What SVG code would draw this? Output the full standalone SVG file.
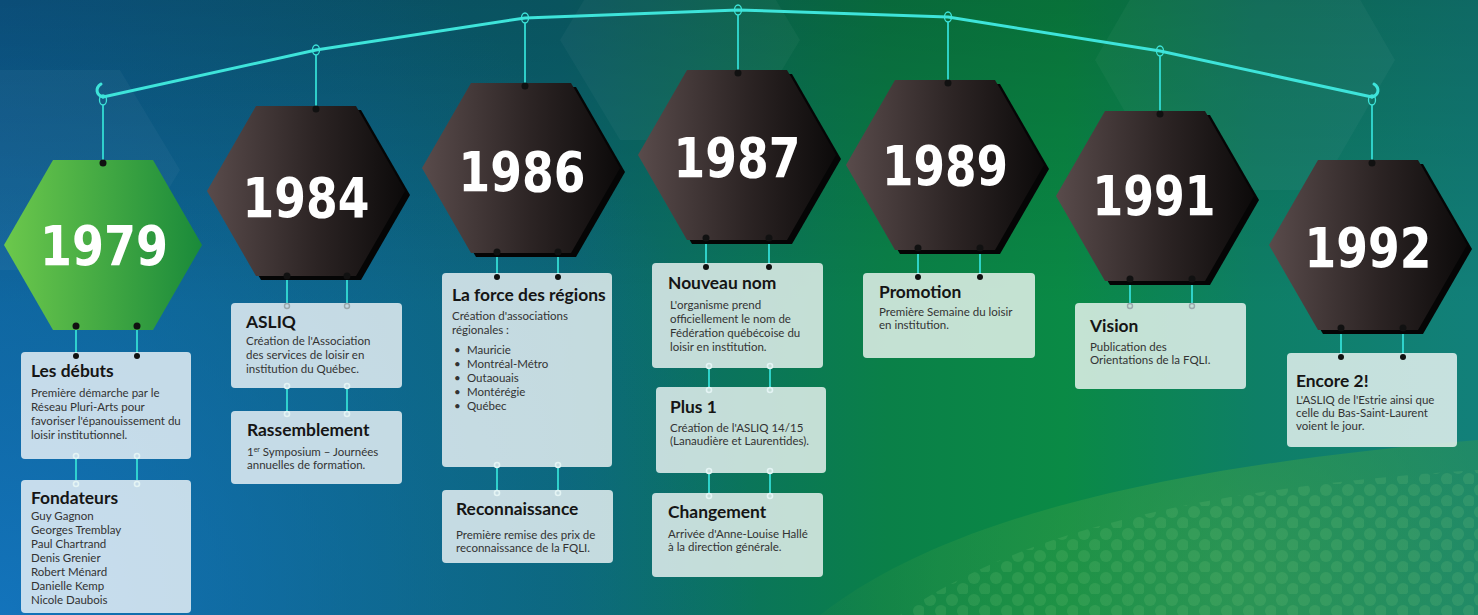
<svg xmlns="http://www.w3.org/2000/svg" width="1478" height="615" viewBox="0 0 1478 615">
<defs>
  <linearGradient id="bgH" x1="0" y1="0" x2="1" y2="0">
    <stop offset="0" stop-color="#0c5a8c"/>
    <stop offset="0.38" stop-color="#0b6672"/>
    <stop offset="0.6" stop-color="#0a8048"/>
    <stop offset="0.72" stop-color="#0a8a45"/>
    <stop offset="0.85" stop-color="#0e7f66"/>
    <stop offset="1" stop-color="#12807a"/>
  </linearGradient>
  <radialGradient id="blueBL" cx="0" cy="615" r="760" gradientUnits="userSpaceOnUse">
    <stop offset="0" stop-color="#1478c4" stop-opacity="0.85"/>
    <stop offset="0.6" stop-color="#1272b0" stop-opacity="0.35"/>
    <stop offset="1" stop-color="#1272b0" stop-opacity="0"/>
  </radialGradient>
  <linearGradient id="topDark" x1="0" y1="0" x2="0" y2="1">
    <stop offset="0" stop-color="#000" stop-opacity="0.18"/>
    <stop offset="0.5" stop-color="#000" stop-opacity="0"/>
  </linearGradient>
  <radialGradient id="greenBR" cx="1250" cy="580" r="520" gradientUnits="userSpaceOnUse">
    <stop offset="0" stop-color="#45a848" stop-opacity="0.55"/>
    <stop offset="0.6" stop-color="#389a45" stop-opacity="0.3"/>
    <stop offset="1" stop-color="#2a8a45" stop-opacity="0"/>
  </radialGradient>
  <pattern id="dots" x="0" y="0" width="22" height="22" patternUnits="userSpaceOnUse">
    <circle cx="6" cy="6" r="6" fill="#8fd88a" fill-opacity="0.14"/>
    <circle cx="17" cy="17" r="6" fill="#8fd88a" fill-opacity="0.14"/>
  </pattern>
  <linearGradient id="hexDark" x1="0" y1="0" x2="1" y2="0">
    <stop offset="0" stop-color="#594b4b"/>
    <stop offset="0.55" stop-color="#2c2424"/>
    <stop offset="1" stop-color="#0c0a0a"/>
  </linearGradient>
  <linearGradient id="hexGreen" x1="0" y1="0" x2="1" y2="0">
    <stop offset="0" stop-color="#6cc84c"/>
    <stop offset="1" stop-color="#1a8a3a"/>
  </linearGradient>
  <polygon id="hex" points="-99,0 -50,-85 50,-85 99,0 50,85 -50,85"/>
  <style>
    .rope{fill:none;stroke:#3ee4da;stroke-width:3;stroke-linejoin:round;stroke-linecap:round}
    .ring{fill:none;stroke:#3ee4da;stroke-width:1.3}
    .str{stroke:#33dcd4;stroke-width:1.8}
    .dot{fill:#111}
    .oring{fill:none;stroke:#e4f4f4;stroke-width:1.6}
    .gring{fill:none;stroke:#9aa8ac;stroke-width:1.4}
    .shadow{fill:#050505}
    .hx{fill:url(#hexDark)}
    .year{font-family:"DejaVu Sans","DejaVu Sans Condensed",sans-serif;font-weight:bold;font-size:56px;fill:#fff;text-anchor:middle}
    .card{fill:#fff;fill-opacity:0.76}
    .t{font-family:Lato,"Open Sans",sans-serif;font-weight:bold;font-size:17.4px;fill:#151515}
    .b{font-family:Lato,"Open Sans",sans-serif;font-size:11.5px;fill:#333}
    .bghex{fill:#fff;fill-opacity:0.035}
  </style>
</defs>

<g id="background">
  <rect width="1478" height="615" fill="url(#bgH)"/>
  <rect width="1478" height="615" fill="url(#blueBL)"/>
  <rect width="1478" height="615" fill="url(#topDark)"/>
  <polygon class="bghex" points="560,40 620,-60 740,-60 800,40 740,140 620,140"/>
  <polygon class="bghex" points="1095,60 1170,-70 1320,-70 1395,60 1320,190 1170,190"/>
  <polygon class="bghex" points="-60,170 0,70 120,70 180,170 120,270 0,270"/>
  <path d="M820,615 C930,530 1120,470 1478,440 L1478,615 Z" fill="url(#greenBR)"/>
  <path d="M900,615 C1000,545 1160,490 1478,470 L1478,615 Z" fill="url(#dots)"/>
</g>

<g id="connectors">
  <path class="rope" d="M103,97 L316,50 L525,18 L738,10 L948,17 L1160,51 L1372,97"/>
  <path class="rope" d="M103,97 C96,95 95,88 101,84" stroke-width="2"/>
  <path class="rope" d="M1372,97 C1379,95 1380,88 1374,84" stroke-width="2"/>
  <ellipse class="ring" cx="103" cy="100" rx="3.5" ry="5"/>
  <ellipse class="ring" cx="316" cy="50" rx="3.5" ry="5"/>
  <ellipse class="ring" cx="525" cy="18" rx="3.5" ry="5"/>
  <ellipse class="ring" cx="738" cy="10" rx="3.5" ry="5"/>
  <ellipse class="ring" cx="948" cy="17" rx="3.5" ry="5"/>
  <ellipse class="ring" cx="1160" cy="51" rx="3.5" ry="5"/>
  <ellipse class="ring" cx="1372" cy="100" rx="3.5" ry="5"/>
  <line class="str" x1="103" y1="105" x2="103" y2="162"/>
  <line class="str" x1="316" y1="55" x2="316" y2="108"/>
  <line class="str" x1="525" y1="23" x2="525" y2="85"/>
  <line class="str" x1="738" y1="15" x2="738" y2="72"/>
  <line class="str" x1="948" y1="22" x2="948" y2="82"/>
  <line class="str" x1="1160" y1="56" x2="1160" y2="113"/>
  <line class="str" x1="1372" y1="105" x2="1372" y2="162"/>
  <path class="str" d="M76,327V356M137,327V356"/>
  <path class="str" d="M287,276V303M347,276V303"/>
  <path class="str" d="M497,251V277M558,251V277"/>
  <path class="str" d="M706,238V267M769,238V267"/>
  <path class="str" d="M918,248V277M980,248V277"/>
  <path class="str" d="M1130,279V303M1192,279V303"/>
  <path class="str" d="M1341,328V356M1403,328V356"/>
  <path class="str" d="M76,459V480M137,459V480"/>
  <path class="str" d="M287,388V411M347,388V411"/>
  <path class="str" d="M497,467V490M558,467V490"/>
  <path class="str" d="M709,368V387M770,368V387"/>
  <path class="str" d="M709,473V493M770,473V493"/>
</g>

<g id="n1979">
  <use href="#hex" x="103" y="245" fill="url(#hexGreen)"/>
  <text class="year" x="104" y="265" textLength="128" lengthAdjust="spacingAndGlyphs">1979</text>
  <circle class="dot" cx="103" cy="163" r="3.5"/>
  <circle class="dot" cx="76" cy="326" r="3.5"/>
  <circle class="dot" cx="137" cy="326" r="3.5"/>
</g>

<g id="n1984">
  <use href="#hex" x="311" y="195" class="shadow"/>
  <use href="#hex" x="306" y="191" class="hx"/>
  <text class="year" x="306" y="217" textLength="127" lengthAdjust="spacingAndGlyphs">1984</text>
  <circle class="dot" cx="316" cy="109" r="3.5"/>
  <circle class="dot" cx="287" cy="276" r="3.5"/>
  <circle class="dot" cx="347" cy="276" r="3.5"/>
</g>

<g id="n1986">
  <use href="#hex" x="526" y="172" class="shadow"/>
  <use href="#hex" x="521" y="168" class="hx"/>
  <text class="year" x="522" y="191" textLength="127" lengthAdjust="spacingAndGlyphs">1986</text>
  <circle class="dot" cx="525" cy="86" r="3.5"/>
  <circle class="dot" cx="497" cy="252" r="3.5"/>
  <circle class="dot" cx="558" cy="252" r="3.5"/>
</g>

<g id="n1987">
  <use href="#hex" x="742" y="159" class="shadow"/>
  <use href="#hex" x="737" y="155" class="hx"/>
  <text class="year" x="737" y="177" textLength="127" lengthAdjust="spacingAndGlyphs">1987</text>
  <circle class="dot" cx="738" cy="73" r="3.5"/>
  <circle class="dot" cx="706" cy="238" r="3.5"/>
  <circle class="dot" cx="769" cy="238" r="3.5"/>
</g>

<g id="n1989">
  <use href="#hex" x="950" y="169" class="shadow"/>
  <use href="#hex" x="945" y="165" class="hx"/>
  <text class="year" x="945" y="185" textLength="126" lengthAdjust="spacingAndGlyphs">1989</text>
  <circle class="dot" cx="948" cy="83" r="3.5"/>
  <circle class="dot" cx="918" cy="248" r="3.5"/>
  <circle class="dot" cx="980" cy="248" r="3.5"/>
</g>

<g id="n1991">
  <use href="#hex" x="1160" y="200" class="shadow"/>
  <use href="#hex" x="1155" y="196" class="hx"/>
  <text class="year" x="1154" y="215" textLength="123" lengthAdjust="spacingAndGlyphs">1991</text>
  <circle class="dot" cx="1160" cy="114" r="3.5"/>
  <circle class="dot" cx="1130" cy="279" r="3.5"/>
  <circle class="dot" cx="1192" cy="279" r="3.5"/>
</g>

<g id="n1992">
  <use href="#hex" x="1373" y="249" class="shadow"/>
  <use href="#hex" x="1368" y="245" class="hx"/>
  <text class="year" x="1368" y="267" textLength="127" lengthAdjust="spacingAndGlyphs">1992</text>
  <circle class="dot" cx="1372" cy="163" r="3.5"/>
  <circle class="dot" cx="1341" cy="328" r="3.5"/>
  <circle class="dot" cx="1403" cy="328" r="3.5"/>
</g>

<g id="c-debuts">
  <rect class="card" x="21" y="352" width="170" height="107" rx="4"/>
  <circle class="dot" cx="76" cy="356" r="3"/>
  <circle class="dot" cx="137" cy="356" r="3"/>
  <circle class="oring" cx="76" cy="456" r="2.5"/>
  <circle class="oring" cx="137" cy="456" r="2.5"/>
  <text class="t" x="31" y="377">Les débuts</text>
  <text class="b" x="31" y="397">Première démarche par le</text>
  <text class="b" x="31" y="411">Réseau Pluri-Arts pour</text>
  <text class="b" x="31" y="425">favoriser l'épanouissement du</text>
  <text class="b" x="31" y="439">loisir institutionnel.</text>
</g>

<g id="c-fondateurs">
  <rect class="card" x="21" y="480" width="170" height="133" rx="4"/>
  <circle class="oring" cx="76" cy="484" r="2.5"/>
  <circle class="oring" cx="137" cy="484" r="2.5"/>
  <text class="t" x="31" y="504">Fondateurs</text>
  <text class="b" x="31" y="520">Guy Gagnon</text>
  <text class="b" x="31" y="534">Georges Tremblay</text>
  <text class="b" x="31" y="548">Paul Chartrand</text>
  <text class="b" x="31" y="562">Denis Grenier</text>
  <text class="b" x="31" y="576">Robert Ménard</text>
  <text class="b" x="31" y="590">Danielle Kemp</text>
  <text class="b" x="31" y="604">Nicole Daubois</text>
</g>

<g id="c-asliq">
  <rect class="card" x="231" y="303" width="171" height="85" rx="4"/>
  <circle class="gring" cx="287" cy="306" r="2.5"/>
  <circle class="gring" cx="347" cy="306" r="2.5"/>
  <circle class="oring" cx="287" cy="386" r="2.5"/>
  <circle class="oring" cx="347" cy="386" r="2.5"/>
  <text class="t" x="246" y="328">ASLIQ</text>
  <text class="b" x="246" y="345">Création de l'Association</text>
  <text class="b" x="246" y="359">des services de loisir en</text>
  <text class="b" x="246" y="373">institution du Québec.</text>
</g>

<g id="c-rassemblement">
  <rect class="card" x="231" y="411" width="171" height="73" rx="4"/>
  <circle class="oring" cx="287" cy="414" r="2.5"/>
  <circle class="oring" cx="347" cy="414" r="2.5"/>
  <text class="t" x="247" y="436">Rassemblement</text>
  <text class="b" x="247" y="456">1<tspan font-size="7" dy="-4">er</tspan><tspan dy="4"> Symposium – Journées</tspan></text>
  <text class="b" x="247" y="469">annuelles de formation.</text>
</g>

<g id="c-regions">
  <rect class="card" x="442" y="273" width="170" height="194" rx="4"/>
  <circle class="dot" cx="497" cy="277" r="3"/>
  <circle class="dot" cx="558" cy="277" r="3"/>
  <circle class="oring" cx="497" cy="465" r="2.5"/>
  <circle class="oring" cx="558" cy="465" r="2.5"/>
  <text class="t" x="452" y="301">La force des régions</text>
  <text class="b" x="452" y="320">Création d'associations</text>
  <text class="b" x="452" y="334">régionales :</text>
  <text class="b" x="454" y="354">•</text><text class="b" x="467" y="354">Mauricie</text>
  <text class="b" x="454" y="368">•</text><text class="b" x="467" y="368">Montréal-Métro</text>
  <text class="b" x="454" y="382">•</text><text class="b" x="467" y="382">Outaouais</text>
  <text class="b" x="454" y="396">•</text><text class="b" x="467" y="396">Montérégie</text>
  <text class="b" x="454" y="410">•</text><text class="b" x="467" y="410">Québec</text>
</g>

<g id="c-reconnaissance">
  <rect class="card" x="442" y="490" width="171" height="73" rx="4"/>
  <circle class="oring" cx="497" cy="493" r="2.5"/>
  <circle class="oring" cx="558" cy="493" r="2.5"/>
  <text class="t" x="456" y="515">Reconnaissance</text>
  <text class="b" x="456" y="539">Première remise des prix de</text>
  <text class="b" x="456" y="552">reconnaissance de la FQLI.</text>
</g>

<g id="c-nom">
  <rect class="card" x="652" y="263" width="171" height="105" rx="4"/>
  <circle class="dot" cx="706" cy="267" r="3"/>
  <circle class="dot" cx="769" cy="267" r="3"/>
  <circle class="oring" cx="709" cy="366" r="2.5"/>
  <circle class="oring" cx="770" cy="366" r="2.5"/>
  <text class="t" x="668" y="289">Nouveau nom</text>
  <text class="b" x="670" y="309">L'organisme prend</text>
  <text class="b" x="670" y="323">officiellement le nom de</text>
  <text class="b" x="670" y="337">Fédération québécoise du</text>
  <text class="b" x="670" y="351">loisir en institution.</text>
</g>

<g id="c-plus1">
  <rect class="card" x="656" y="387" width="170" height="86" rx="4"/>
  <circle class="oring" cx="709" cy="390" r="2.5"/>
  <circle class="oring" cx="770" cy="390" r="2.5"/>
  <circle class="oring" cx="709" cy="471" r="2.5"/>
  <circle class="oring" cx="770" cy="471" r="2.5"/>
  <text class="t" x="670" y="413">Plus 1</text>
  <text class="b" x="670" y="432">Création de l'ASLIQ 14/15</text>
  <text class="b" x="670" y="445">(Lanaudière et Laurentides).</text>
</g>

<g id="c-changement">
  <rect class="card" x="652" y="493" width="171" height="84" rx="4"/>
  <circle class="oring" cx="709" cy="496" r="2.5"/>
  <circle class="oring" cx="770" cy="496" r="2.5"/>
  <text class="t" x="668" y="518">Changement</text>
  <text class="b" x="668" y="538">Arrivée d'Anne-Louise Hallé</text>
  <text class="b" x="668" y="551">à la direction générale.</text>
</g>

<g id="c-promotion">
  <rect class="card" x="863" y="273" width="172" height="85" rx="4"/>
  <circle class="dot" cx="918" cy="277" r="3"/>
  <circle class="dot" cx="980" cy="277" r="3"/>
  <text class="t" x="879" y="298">Promotion</text>
  <text class="b" x="879" y="316">Première Semaine du loisir</text>
  <text class="b" x="879" y="329">en institution.</text>
</g>

<g id="c-vision">
  <rect class="card" x="1075" y="303" width="171" height="86" rx="4"/>
  <circle class="gring" cx="1130" cy="306" r="2.5"/>
  <circle class="gring" cx="1192" cy="306" r="2.5"/>
  <text class="t" x="1090" y="332">Vision</text>
  <text class="b" x="1090" y="351">Publication des</text>
  <text class="b" x="1090" y="364">Orientations de la FQLI.</text>
</g>

<g id="c-encore">
  <rect class="card" x="1287" y="353" width="170" height="94" rx="4"/>
  <circle class="dot" cx="1341" cy="357" r="3"/>
  <circle class="dot" cx="1403" cy="357" r="3"/>
  <text class="t" x="1296" y="387">Encore 2!</text>
  <text class="b" x="1296" y="404">L'ASLIQ de l'Estrie ainsi que</text>
  <text class="b" x="1296" y="417">celle du Bas-Saint-Laurent</text>
  <text class="b" x="1296" y="430">voient le jour.</text>
</g>
</svg>
